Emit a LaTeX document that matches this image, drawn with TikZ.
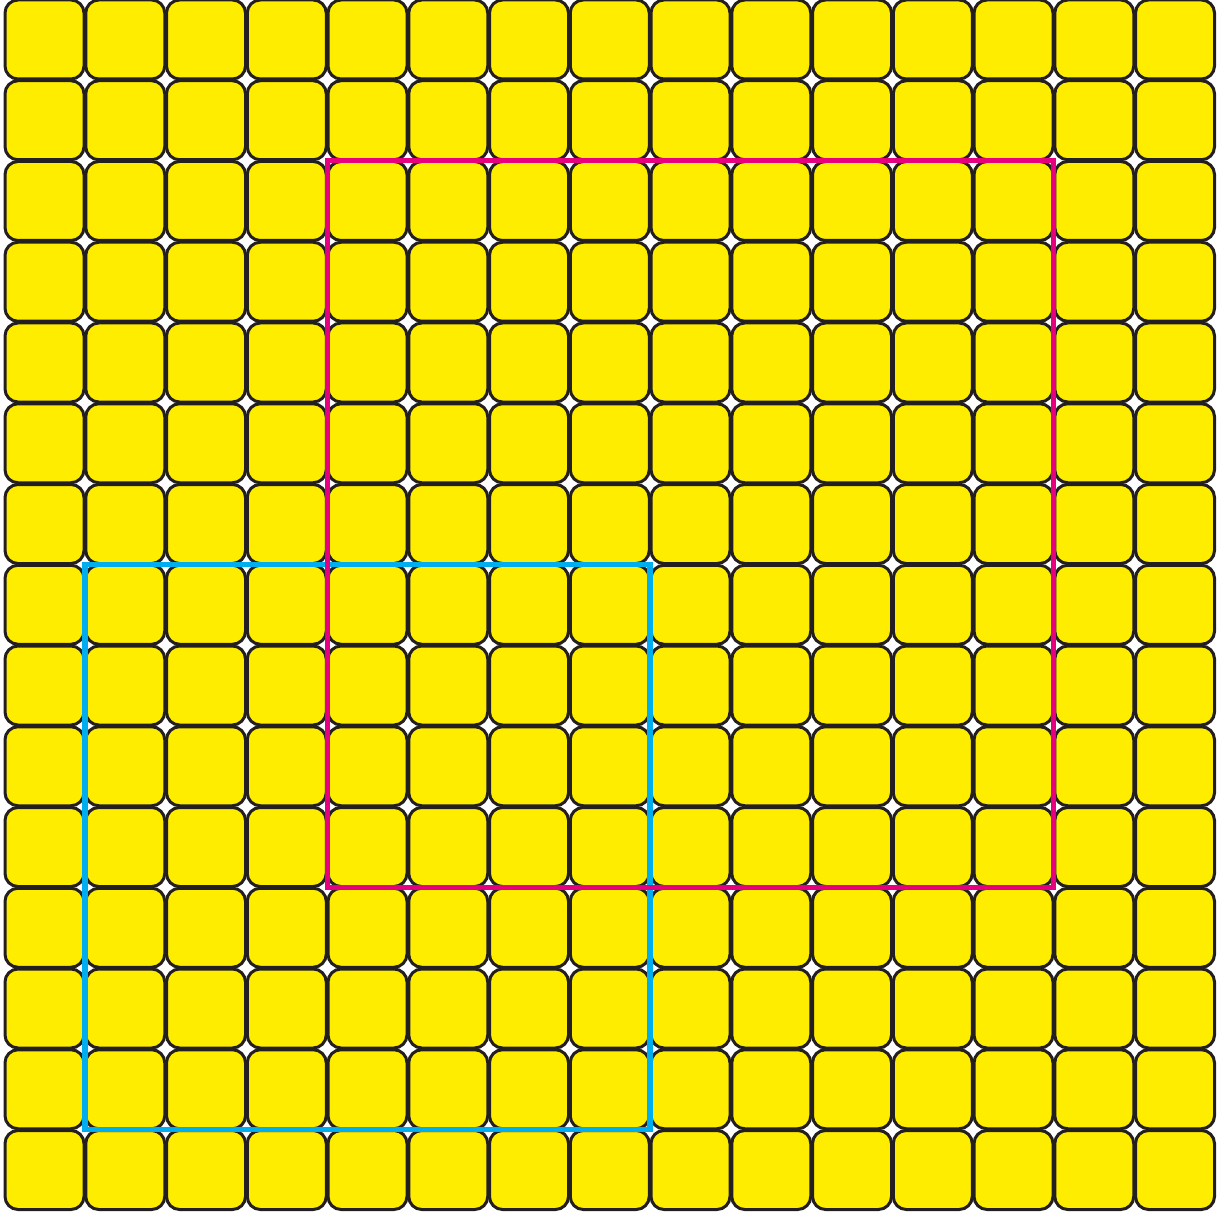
\documentclass[tikz,border=0pt]{standalone}
\usepackage{xcolor}
\usetikzlibrary{calc,positioning}

\definecolor{tileyellow}{HTML}{FFED00}
\definecolor{tileedge}{HTML}{231F20}
\definecolor{boxmagenta}{HTML}{E6007E}
\definecolor{boxcyan}{HTML}{00AEEF}

\begin{document}
\begin{tikzpicture}[x=0.5pt, y=-0.5pt,
    tile/.style={draw=tileedge, fill=tileyellow, line width=1.5pt,
        rounded corners=6.5pt, minimum size=39.5pt, inner sep=0pt, outer sep=0pt}]
    \def\p{80.75}   % tile pitch (px)
    \def\xo{44.5}   % centre of first column
    \def\yo{39.5}   % centre of first row

    \useasboundingbox (0,0) rectangle (1218,1213);

    % 15 x 15 grid of tiles
    \foreach \r in {0,...,14}
        \foreach \c in {0,...,14}
            \node[tile] (t-\r-\c) at ({\xo+\c*\p},{\yo+\r*\p}) {};

    % Cyan frame (8 x 8 block)
    \draw[boxcyan, line width=2.75pt]
        ($(t-6-0)!0.5!(t-7-1)$) rectangle ($(t-13-7)!0.5!(t-14-8)$);

    % Magenta frame (9 x 9 block)
    \draw[boxmagenta, line width=2.4pt]
        ($(t-1-3)!0.5!(t-2-4)$) rectangle ($(t-10-12)!0.5!(t-11-13)$);
\end{tikzpicture}
\end{document}
